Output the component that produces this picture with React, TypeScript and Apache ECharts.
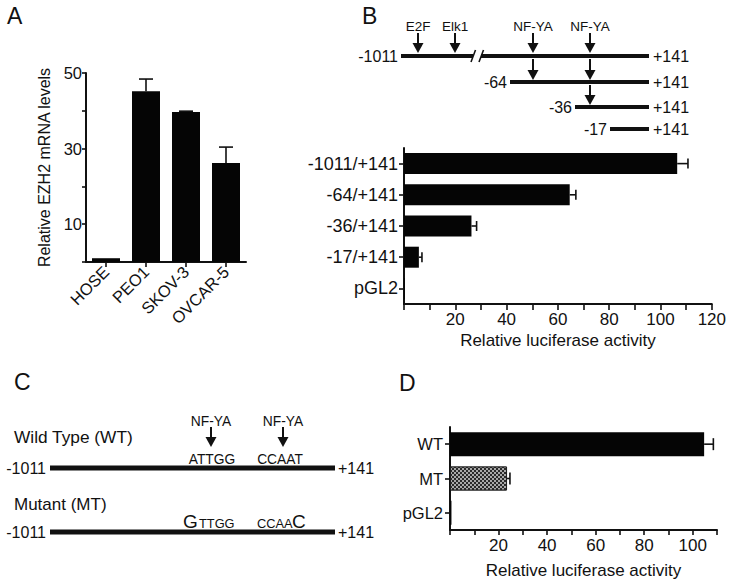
import React, { useEffect, useRef } from "react";
import * as echarts from "echarts";

// ---------- Data ----------
const catsA = ["HOSE", "PEO1", "SKOV-3", "OVCAR-5"];
const valsA = [1.0, 45.2, 39.7, 26.2];
const errHiA = [1.0, 48.4, 39.9, 30.4];
const labeledTicksA = [10, 30, 50];

const catsB = ["-1011/+141", "-64/+141", "-36/+141", "-17/+141", "pGL2"];
const valsB = [106.5, 64.6, 26.3, 5.8, 0.3];
const errHiB = [110.7, 67.0, 28.3, 7.0, 0.3];

const catsD = ["WT", "MT", "pGL2"];
const valsD = [104.7, 23.5, 0.6];
const errHiD = [108.5, 24.7, 0.6];

const sitesB = ["E2F", "Elk1", "NF-YA", "NF-YA"];
const startsB = ["-1011", "-64", "-36", "-17"];
const endLabel = "+141";
const wtLabel = "Wild Type (WT)";
const mtLabel = "Mutant (MT)";
const wtSeqs = ["ATTGG", "CCAAT"];
const mtSeqs = [["G", "TTGG"], ["CCAA", "C"]];
const panelLetters = ["A", "B", "C", "D"];
const xName = "Relative luciferase activity";
const yNameA = "Relative EZH2 mRNA levels";

const FONT = "Liberation Sans, Arial, Helvetica, sans-serif";
const INK = "#111";

function txt(text: string, x: number, y: number, size: number, align = "left", vAlign = "middle") {
  return {
    type: "text",
    x,
    y,
    silent: true,
    style: { text, fontSize: size, fontFamily: FONT, fill: INK, align, verticalAlign: vAlign },
  };
}
function seg(x1: number, y1: number, x2: number, y2: number, w: number) {
  return { type: "line", silent: true, shape: { x1, y1, x2, y2 }, style: { stroke: INK, lineWidth: w } };
}
function arrow(x: number, yTop: number, yTip: number) {
  return [
    seg(x, yTop, x, yTip - 8, 2),
    {
      type: "polygon",
      silent: true,
      shape: { points: [[x - 5.5, yTip - 10], [x + 5.5, yTip - 10], [x, yTip]] },
      style: { fill: INK },
    },
  ];
}

function vErr(params: any, api: any) {
  const i = api.value(0);
  const lo = api.value(1);
  const hi = api.value(2);
  if (!(hi > lo)) return null;
  const p1 = api.coord([i, lo]);
  const p2 = api.coord([i, hi]);
  return {
    type: "group",
    children: [
      { type: "line", shape: { x1: p1[0], y1: p1[1], x2: p2[0], y2: p2[1] }, style: { stroke: INK, lineWidth: 1.6 } },
      { type: "line", shape: { x1: p2[0] - 7, y1: p2[1], x2: p2[0] + 7, y2: p2[1] }, style: { stroke: INK, lineWidth: 1.6 } },
    ],
  };
}
function hErrFactory(half: number) {
  return (params: any, api: any) => {
    const i = api.value(0);
    const lo = api.value(1);
    const hi = api.value(2);
    if (!(hi > lo)) return null;
    const p1 = api.coord([lo, i]);
    const p2 = api.coord([hi, i]);
    return {
      type: "group",
      children: [
        { type: "line", shape: { x1: p1[0], y1: p1[1], x2: p2[0], y2: p2[1] }, style: { stroke: INK, lineWidth: 1.6 } },
        { type: "line", shape: { x1: p2[0], y1: p2[1] - half, x2: p2[0], y2: p2[1] + half }, style: { stroke: INK, lineWidth: 1.6 } },
      ],
    };
  };
}

export default function App() {
  const ref = useRef<HTMLDivElement>(null);
  useEffect(() => {
    if (!ref.current) return;
    const chart = echarts.init(ref.current, null, { renderer: "svg" });

    const axisLine = { show: true, lineStyle: { color: INK, width: 2 } };
    const tickStyle = { color: INK, width: 1.6 };
    const lab = (size: number) => ({ color: INK, fontSize: size, fontFamily: FONT });

    // diagram graphics
    const g: any[] = [];
    // panel letters
    g.push(txt(panelLetters[0], 7, 16, 23));
    g.push(txt(panelLetters[1], 362, 16, 23));
    g.push(txt(panelLetters[2], 14, 382, 23));
    g.push(txt(panelLetters[3], 399, 383, 23));

    // Panel B construct diagram
    const rowsY = [56, 82, 107, 129];
    const startX = [401, 510, 575, 610];
    const endX = 649;
    const siteX = [418, 455, 533, 590];
    sitesB.forEach((s, i) => {
      g.push(txt(s, siteX[i], 26, 13.5, "center"));
      g.push(...arrow(siteX[i], 33, 53));
    });
    // line 1 with break
    g.push(seg(startX[0], rowsY[0], 473, rowsY[0], 4));
    g.push(seg(481, rowsY[0], endX, rowsY[0], 4));
    g.push(seg(471, 62, 475.5, 50, 1.6));
    g.push(seg(479, 62, 483.5, 50, 1.6));
    for (let r = 1; r < 4; r++) g.push(seg(startX[r], rowsY[r], endX, rowsY[r], 4));
    startsB.forEach((s, r) => {
      g.push(txt(s, startX[r] - 3, rowsY[r], 16, "right"));
      g.push(txt(endLabel, endX + 4, rowsY[r], 16, "left"));
    });
    g.push(...arrow(533, 59, 80));
    g.push(...arrow(590, 59, 80));
    g.push(...arrow(590, 85, 105));

    // Panel C
    g.push(txt(wtLabel, 14, 437, 17.3));
    g.push(txt(mtLabel, 14, 504, 17));
    [468, 532].forEach((y) => {
      g.push(seg(50, y, 335, y, 5));
      g.push(txt(startsB[0], 46, y, 16, "right"));
      g.push(txt(endLabel, 338, y, 16, "left"));
    });
    [211, 283].forEach((x) => {
      g.push(txt("NF-YA", x, 421, 13.8, "center"));
      g.push(...arrow(x, 427, 447));
    });
    g.push(txt(wtSeqs[0], 212, 459.5, 13.8, "center"));
    g.push(txt(wtSeqs[1], 280, 459.5, 13.8, "center"));
    // mutant sequences: big mutated letter + small rest
    g.push(txt(mtSeqs[0][0], 183, 530.5, 19, "left", "bottom"));
    g.push(txt(mtSeqs[0][1], 199, 529.5, 12.8, "left", "bottom"));
    g.push(txt(mtSeqs[1][0], 257, 529.5, 12.8, "left", "bottom"));
    g.push(txt(mtSeqs[1][1], 292, 530.5, 19, "left", "bottom"));

    const option: any = {
      animation: false,
      backgroundColor: "#fff",
      textStyle: { fontFamily: FONT, color: INK },
      grid: [
        { left: 86, top: 73, width: 160, height: 189 },
        { left: 404, top: 148, width: 310, height: 156 },
        { left: 450, top: 427, width: 267, height: 105 },
      ],
      xAxis: [
        {
          type: "category",
          gridIndex: 0,
          data: catsA,
          axisLine,
          axisTick: { show: true, alignWithLabel: true, length: 5, lineStyle: tickStyle },
          axisLabel: { ...lab(16.5), rotate: 45, margin: 7, interval: 0 },
        },
        {
          type: "value",
          gridIndex: 1,
          min: 0,
          max: 120,
          interval: 10,
          axisLine,
          axisTick: { show: true, length: 6, lineStyle: tickStyle },
          axisLabel: { ...lab(17), margin: 7, formatter: (v: number) => (v > 0 && v % 20 === 0 ? String(v) : "") },
          splitLine: { show: false },
          name: xName,
          nameLocation: "middle",
          nameGap: 28,
          nameTextStyle: lab(17),
        },
        {
          type: "value",
          gridIndex: 2,
          min: 0,
          max: 110,
          interval: 10,
          axisLine,
          axisTick: { show: true, length: 5, lineStyle: tickStyle },
          axisLabel: { ...lab(17), margin: 7, formatter: (v: number) => (v > 0 && v <= 100 && v % 20 === 0 ? String(v) : "") },
          splitLine: { show: false },
          name: xName,
          nameLocation: "middle",
          nameGap: 32,
          nameTextStyle: lab(17),
        },
      ],
      yAxis: [
        {
          type: "value",
          gridIndex: 0,
          min: 0,
          max: 50,
          interval: 10,
          axisLine,
          axisTick: { show: true, length: 4, lineStyle: tickStyle },
          axisLabel: { ...lab(16.5), margin: 4, formatter: (v: number) => (labeledTicksA.includes(v) ? String(v) : "") },
          splitLine: { show: false },
          name: yNameA,
          nameLocation: "middle",
          nameGap: 34,
          nameTextStyle: lab(16),
        },
        {
          type: "category",
          gridIndex: 1,
          inverse: true,
          data: catsB,
          axisLine,
          axisTick: { show: true, alignWithLabel: true, length: 5, lineStyle: tickStyle },
          axisLabel: { ...lab(18), margin: 6, interval: 0 },
        },
        {
          type: "category",
          gridIndex: 2,
          inverse: true,
          data: catsD,
          axisLine,
          axisTick: { show: true, alignWithLabel: true, length: 5, lineStyle: tickStyle },
          axisLabel: { ...lab(16.5), margin: 7, interval: 0 },
        },
      ],
      series: [
        {
          type: "bar",
          xAxisIndex: 0,
          yAxisIndex: 0,
          data: valsA,
          barWidth: 28,
          itemStyle: { color: "#050505" },
        },
        {
          type: "custom",
          xAxisIndex: 0,
          yAxisIndex: 0,
          data: valsA.map((v, i) => [i, v, errHiA[i]]),
          encode: { x: 0, y: [1, 2] },
          renderItem: vErr,
          z: 3,
        },
        {
          type: "bar",
          xAxisIndex: 1,
          yAxisIndex: 1,
          data: valsB,
          barWidth: 21,
          itemStyle: { color: "#050505" },
        },
        {
          type: "custom",
          xAxisIndex: 1,
          yAxisIndex: 1,
          data: valsB.map((v, i) => [i, v, errHiB[i]]),
          encode: { y: 0, x: [1, 2] },
          renderItem: hErrFactory(5),
          z: 3,
        },
        {
          type: "bar",
          xAxisIndex: 2,
          yAxisIndex: 2,
          data: valsD.map((v, i) =>
            i === 1
              ? {
                  value: v,
                  itemStyle: {
                    color: "#2a2a2a",
                    borderColor: "#222",
                    borderWidth: 1,
                    decal: {
                      symbol: "rect",
                      symbolSize: 1,
                      color: "rgba(200,200,200,0.8)",
                      dashArrayX: [[2, 2], [0, 2, 2, 0]],
                      dashArrayY: [2, 0],
                    },
                  },
                }
              : v
          ),
          barWidth: 24,
          itemStyle: { color: "#050505" },
        },
        {
          type: "custom",
          xAxisIndex: 2,
          yAxisIndex: 2,
          data: valsD.map((v, i) => [i, v, errHiD[i]]),
          encode: { y: 0, x: [1, 2] },
          renderItem: hErrFactory(6),
          z: 3,
        },
      ],
      graphic: g,
    };
    chart.setOption(option);
    return () => chart.dispose();
  }, []);
  return <div ref={ref} style={{ position: "absolute", left: 0, top: 0, width: 729, height: 580 }} />;
}
